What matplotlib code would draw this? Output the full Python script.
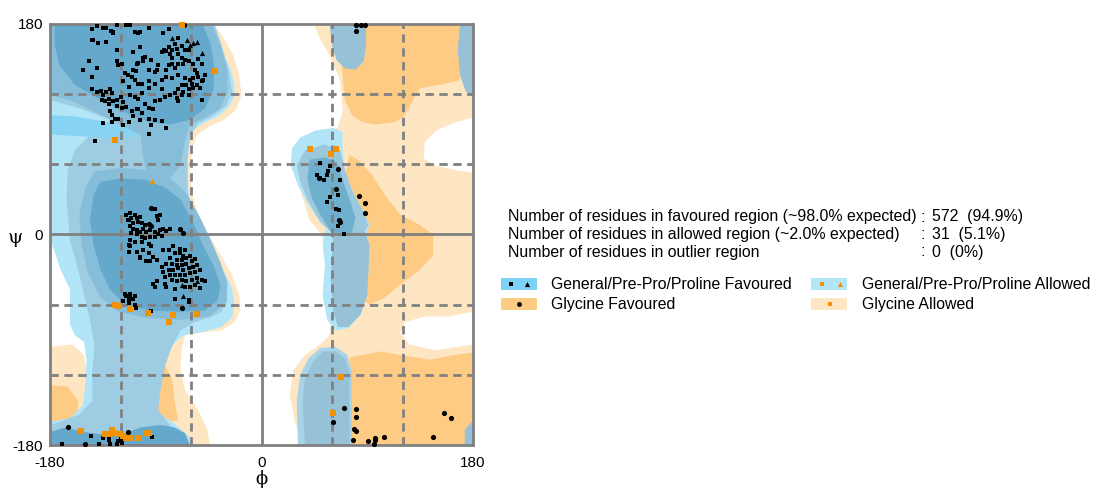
import matplotlib
matplotlib.use("Agg")
import matplotlib.pyplot as plt
from matplotlib.patches import Polygon, Rectangle
import numpy as np

# ---------------- region outlines (phi, psi in degrees) ----------------
gly_allowed_right = [(45,180),(180,180),(180,100),(165,96),(149,89),(139,79),(138,65),(148,59),(165,55),(180,53),
                     (180,-66),(160,-70),(139,-70),(122,-75),(118,-84),(126,-94),(148,-99),(180,-94),(180,-180),
                     (43,-180),(29,-163),(24,-137),(27,-116),(37,-103),(50,-94),(58,-86),(61,-56),(58,-22),(51,0),
                     (41,12),(33,38),(28,64),(33,81),(48,89),(65,91),(69,106),(67,132),(58,153),(48,171)]
gly_allowed_left = [(-57,180),(-41,180),(-32,168),(-24,153),(-19,136),(-17,119),(-22,106),(-32,98),(-45,92),(-55,85),
                    (-59,72),(-61,55),(-59,34),(-54,18),(-45,0),(-35,-17),(-25,-35),(-19,-52),(-18,-64),(-23,-75),
                    (-34,-82),(-52,-84),(-65,-86),(-68,-99),(-69,-116),(-65,-133),(-54,-150),(-46,-167),(-44,-180),
                    (-120,-180),(-120,30),(-95,115),(-95,180)]
gly_allowed_corner = [(-180,-96),(-161,-94),(-151,-103),(-148,-124),(-148,-180),(-180,-180)]
gly_fav_top = [(64,180),(169,180),(169,132),(152,128),(135,125),(129,115),(122,102),(114,96),(97,94),(86,96),
               (77,102),(71,115),(69,136),(67,158)]
gly_fav_mid = [(75,68),(82,64),(94,51),(105,34),(118,17),(135,8),(146,0),(146,-18),(135,-30),(118,-43),(105,-54),
               (92,-60),(86,-56),(84,-39),(80,-13),(71,8),(67,30),(71,51)]
gly_fav_bottom = [(75,-105),(101,-100),(118,-103),(143,-107),(165,-103),(180,-101),(180,-180),(75,-180)]
gly_fav_left = [(-180,-129),(-165,-130),(-156,-142),(-156,-159),(-172,-163),(-180,-162)]
gly_fav_left2 = [(-92,-107),(-82,-112),(-76,-124),(-74,-142),(-71,-159),(-86,-161),(-92,-150)]

gen_allowed = [(-180,180),(-45,180),(-39,166),(-32,153),(-26,141),(-23,128),(-23,118),(-28,109),(-37,101),(-50,95),
               (-58,89),(-62,76),(-63,55),(-62,34),(-58,17),(-51,0),(-42,-17),(-32,-32),(-25,-46),(-23,-60),
               (-25,-71),(-34,-79),(-48,-83),(-65,-86),(-71,-90),(-86,-105),(-91,-118),(-92,-150),(-75,-161),
               (-61,-173),(-58,-180),(-180,-180),(-180,-160),(-163,-157),(-152,-146),(-150,-129),(-149,-107),
               (-151,-92),(-159,-86),(-163,-77),(-163,-47),(-171,-30),(-178,-9),(-180,-5)]
pre_allowed = [(-180,180),(-40,180),(-34,162),(-28,141),(-25,122),(-30,110),(-42,101),(-54,95),(-61,85),(-63,64),
               (-63,38),(-59,18),(-52,0),(-44,-16),(-35,-29),(-30,-43),(-29,-56),(-34,-66),(-44,-71),(-57,-75),
               (-69,-82),(-76,-95),(-82,-112),(-86,-133),(-88,-150),(-78,-163),(-65,-176),(-63,-180),(-180,-180),
               (-180,-163),(-155,-154),(-144,-142),(-144,-116),(-142,-95),(-146,-73),(-150,-56),(-156,-30),
               (-163,-5),(-166,30),(-165,55),(-159,72),(-146,85),(-129,98),(-155,108),(-180,115)]
fav_band = [(-180,102),(-159,101),(-137,97),(-116,93),(-99,87),(-112,83),(-133,83),(-155,84),(-172,85),(-180,86)]
beta_outer = [(-180,180),(-42,180),(-35,162),(-29,141),(-29,122),(-35,108),(-48,100),(-61,94),(-65,81),(-69,59),
              (-78,48),(-88,47),(-98,54),(-101,68),(-103,85),(-120,94),(-142,105),(-163,115),(-180,119)]
beta_core = [(-176,180),(-50,180),(-43,162),(-40,141),(-41,124),(-48,108),(-61,98),(-78,94),(-95,96),(-118,105),
             (-142,118),(-159,128),(-172,145),(-176,162)]
alpha_outer = [(-142,54),(-120,57),(-95,55),(-76,47),(-63,34),(-52,14),(-43,-5),(-35,-24),(-29,-41),(-30,-58),
               (-44,-70),(-69,-73),(-99,-71),(-122,-66),(-137,-54),(-148,-32),(-153,-9),(-155,17),(-150,40)]
alpha_core = [(-137,45),(-120,48),(-99,47),(-82,40),(-69,30),(-59,12),(-50,-9),(-41,-26),(-35,-43),(-37,-56),
              (-48,-65),(-69,-66),(-95,-65),(-116,-60),(-129,-47),(-137,-30),(-143,-9),(-146,12),(-143,34)]
bottom_band = [(-180,-180),(-180,-169),(-167,-165),(-150,-169),(-129,-172),(-116,-170),(-103,-165),(-86,-163),
               (-74,-165),(-65,-170),(-61,-180)]
lobe_L_outer = [(46,89),(61,91),(69,88),(69,72),(71,55),(77,38),(86,21),(92,8),(88,-2),(75,-5),(63,-1),(52,8),
                (40,25),(31,42),(25,59),(26,74),(33,83)]
lobe_L_mid = [(37,72),(54,77),(67,72),(71,55),(77,38),(86,21),(91,8),(86,-1),(74,-4),(61,0),(50,11),(40,28),
              (33,45),(30,59)]
lobe_L_core = [(41,64),(54,66),(64,62),(69,47),(75,30),(80,14),(77,2),(67,-2),(58,4),(50,17),(43,31),(39,47)]
lobe_ext_outer = [(54,4),(88,4),(92,-9),(91,-30),(90,-52),(84,-69),(74,-80),(63,-82),(56,-73),(52,-52),(54,-26),(52,-9)]
lobe_ext_inner = [(61,2),(88,2),(92,-9),(91,-30),(90,-52),(84,-69),(74,-79),(65,-79),(61,-65),(59,-39),(60,-18)]
lobe_bottom_outer = [(31,-180),(30,-142),(33,-120),(40,-106),(50,-97),(63,-96),(73,-103),(77,-118),(77,-142),(77,-180)]
lobe_bottom_inner = [(37,-180),(35,-142),(37,-123),(44,-109),(52,-100),(63,-100),(71,-106),(75,-118),(75,-180)]
lobe_top = [(58,180),(89,180),(89,162),(87,148),(80,141),(71,142),(64,149),(60,162)]
wrap_top = [(169,180),(180,180),(180,117),(174,122),(169,136),(167,158)]
wrap_bottom = [(173,-180),(173,-167),(180,-159),(180,-180)]

# ---------------- residues (phi, psi) ----------------
general_fav = [
 (-144,176),(-140,178),(-135,177),(-132,177),(-128,174),(-126,173),(-123,179),(-115,179),(-112,179),(-108,173),
 (-105,172),(-144,166),(-143,166),(-139,164),(-132,165),(-126,172),(-123,158),(-147,148),(-152,141),(-140,142),
 (-144,135),(-123,148),(-119,146),(-122,145),(-116,138),(-114,136),(-109,141),(-107,140),(-110,135),(-106,146),
 (-118,131),(-113,126),(-108,132),(-105,129),(-144,124),(-140,122),(-137,123),(-135,119),(-132,122),(-129,124),
 (-127,121),(-130,116),(-136,115),(-133,114),(-130,112),(-126,114),(-123,115),(-120,118),(-118,113),(-112,119),
 (-108,118),(-105,116),(-123,110),(-119,108),(-115,109),(-110,106),(-106,107),(-129,106),(-127,102),(-125,99),
 (-122,99),(-118,94),(-113,96),(-135,95),(-127,96),(-109,101),(-103,173),(-96,177),(-103,160),(-109,156),
 (-101,151),(-89,141),(-96,86),(-142,80),
 (-96,177),(-84,172),(-79,176),(-71,168),(-74,163),(-79,160),(-83,158),(-85,156),(-81,157),(-76,158),
 (-72,159),(-68,161),(-65,158),(-62,158),(-71,154),(-78,154),(-76,151),(-68,151),(-65,149),(-62,148),
 (-58,146),(-51,146),(-54,150),(-67,146),(-71,146),(-76,146),(-79,145),(-88,145),(-94,149),(-99,152),
 (-101,148),(-105,147),(-96,141),(-91,139),(-81,141),(-74,142),(-57,141),(-55,138),(-54,135),(-50,132),
 (-48,136),(-51,131),(-58,134),(-61,132),(-65,134),(-71,136),(-76,134),(-81,135),(-85,132),(-91,129),
 (-96,131),(-102,129),(-68,128),(-64,128),(-59,129),(-55,128),(-52,125),(-58,125),(-62,124),(-67,122),
 (-71,124),(-74,121),(-78,119),(-82,118),(-86,115),(-91,114),(-72,117),(-68,119),(-62,119),(-51,115),
 (-85,124),(-96,125),(-102,121),(-99,112),(-96,108),(-92,107),(-102,104),(-105,107),(-96,99),(-91,98),
 (-85,97),(-81,91),(-94,94),(-103,98),(-71,114),
 (-91,22),(-112,18),(-108,17),(-111,14),(-106,14),(-103,15),(-113,12),(-109,10),(-105,11),(-102,10),
 (-99,8),(-89,16),(-86,17),(-88,12),(-112,7),(-109,5),(-106,4),(-103,2),(-101,5),(-98,2),
 (-95,4),(-91,2),(-86,4),(-84,5),(-81,3),(-78,5),(-111,1),(-106,0),(-102,-2),(-99,-3),
 (-95,-2),(-91,-2),(-88,0),(-85,-1),(-112,-5),(-108,-6),(-102,-6),(-96,-8),(-94,-10),(-112,-10),
 (-113,-15),(-106,-15),(-101,-13),(-96,-16),(-103,-20),(-98,-23),(-92,-19),(-89,-22),(-84,-13),(-79,-13),
 (-75,-10),(-69,-12),(-65,-13),(-74,-16),(-69,-16),(-67,-18),(-78,-20),(-72,-22),(-68,-22),(-64,-20),
 (-61,-18),(-81,-25),(-76,-25),(-72,-26),(-68,-26),(-64,-25),(-59,-23),(-57,-21),(-85,-28),(-84,-32),
 (-79,-30),(-75,-30),(-71,-29),(-67,-30),(-62,-29),(-58,-28),(-55,-26),(-82,-36),(-78,-35),(-74,-35),
 (-69,-35),(-65,-35),(-61,-33),(-57,-32),(-52,-30),(-76,-39),(-72,-40),(-68,-39),(-64,-40),(-59,-39),
 (-55,-37),(-51,-39),(-48,-40),(-61,-45),(-57,-43),(-52,-46),(-65,-45),(-74,-55),(-92,-42),(-91,-45),
 (-82,-42),(-81,-45),(-116,-51),(-112,-53),(-113,-56),(-109,-55),(-62,-56),(-115,17),(-114,12),(-113,-9),
 (-103,-19),(-95,-23),(-89,-40),(-74,-47),(-115,-53),(-112,-51),(-108,-53),(-118,-57),(-113,-59),(-108,-60),
 (-107,-63),(-94,-65),(-62,-58),
 (-170,-179),(-145,-172),(-135,-174),(-130,-176),(-130,-174),(-138,-179),(-129,-179),(-123,-179),(-120,-175),
 (-119,-178),(-93,-173),(-122,-177),
]
proline_fav = [(-76,168),(-63,166),(-58,164),(-61,162),(-55,165),(-51,155),(-68,-43),(-55,-40),(-67,-53)]
glycine = [(-66,179),(-94,23),(-96,9),(-94,7),(-69,5),(-67,1),(-68,-63),(-165,-165),(-150,-179),(-114,-169),
           (80,179),(80,174),(85,179),(88,179),
           (65,56),(49,48),(63,39),(66,12),(67,11),(83,33),(88,27),(88,18),
           (70,-148),(80,-149),(80,-156),(61,-160),(79,-166),(80,-168),(78,-176),(91,-177),(97,-174),(97,-176),
           (104,-173),(96,-179),(146,-173),(155,-153),(161,-157)]
general_fav_right = [(50,61),(58,59),(47,51),(50,48),(53,47),(56,51),(57,54),(67,47),(58,32),(65,34),
                     (56,28),(63,22),(66,21),(65,7),(70,0)]
general_allowed = [(-40,140),(-68,179),(-125,81),(-125,-60),(-121,-61),(-112,-64),(-97,-67),(-75,-69),(-55,-68),
                   (-79,-75),(-154,-168),(-133,-171),(-129,-171),(-127,-167),(-125,-170),(-118,-172),(-115,-174),
                   (-112,-174),(-105,-174),(-98,-170),(-96,-170),(-120,-171),
                   (41,73),(63,73),(59,69),(68,-122),(61,-153)]
proline_allowed = [(-93,46)]

grid_lines = [-120, -60, 60, 120]
tick_values = [-180, 0, 180]
tick_labels = ["-180", "0", "180"]

stats_labels = ["Number of residues in favoured region (~98.0% expected)",
                "Number of residues in allowed region (~2.0% expected)",
                "Number of residues in outlier region"]
stats_values = ["572  (94.9%)", "31  (5.1%)", "0  (0%)"]
legend_labels = ["General/Pre-Pro/Proline Favoured", "Glycine Favoured",
                 "General/Pre-Pro/Proline Allowed", "Glycine Allowed"]

# ---------------- colours ----------------
PEACH = "#FEE6C3"
ORANGE = "#FECB84"
CYAN = "#B3E5F9"
BRIGHT = "#86D3F3"
MID = "#9ECCE3"
DARK1 = "#86BEDA"
DARK2 = "#64A9CB"
LOBE_MID = "#9CC8DE"
LOBE_CORE = "#6FAFCE"
GREYBLUE = "#96C1D6"
GRID = "#808080"
PT_ORANGE = "#F39200"

plt.rcParams["font.family"] = ["Liberation Sans", "DejaVu Sans"]
fig = plt.figure(figsize=(10.95, 4.9), dpi=100)
ax = fig.add_axes([50/1095, 1-445/490, 423/1095, 421/490])
ax.set_xlim(-180, 180)
ax.set_ylim(-180, 180)


def poly(verts, color, z):
    ax.add_patch(Polygon(np.array(verts, dtype=float), closed=True, facecolor=color,
                         edgecolor="none", zorder=z))

# glycine regions
for v in (gly_allowed_right, gly_allowed_left, gly_allowed_corner):
    poly(v, PEACH, 1)
for v in (gly_fav_top, gly_fav_mid, gly_fav_bottom, gly_fav_left, gly_fav_left2):
    poly(v, ORANGE, 2)
# general / pre-pro / proline regions
poly(gen_allowed, CYAN, 3)
poly(pre_allowed, MID, 4)
poly(fav_band, BRIGHT, 4.5)
poly(beta_outer, DARK1, 5)
poly(alpha_outer, DARK1, 5)
poly(beta_core, DARK2, 6)
poly(alpha_core, DARK2, 6)
poly(bottom_band, DARK2, 6)
poly(lobe_L_outer, CYAN, 3)
poly(lobe_L_mid, LOBE_MID, 4)
poly(lobe_L_core, LOBE_CORE, 5)
poly(lobe_ext_outer, CYAN, 3)
poly(lobe_ext_inner, GREYBLUE, 4)
poly(lobe_bottom_outer, "#A9D3E6", 3)
poly(lobe_bottom_inner, GREYBLUE, 4)
poly(lobe_top, GREYBLUE, 4)
poly(wrap_top, GREYBLUE, 4)
poly(wrap_bottom, GREYBLUE, 4)

# grid lines
for g in grid_lines:
    ax.axvline(g, color=GRID, lw=2, ls=(0, (3, 2)), zorder=7)
    ax.axhline(g, color=GRID, lw=2, ls=(0, (3, 2)), zorder=7)
ax.axvline(0, color=GRID, lw=2, zorder=7)
ax.axhline(0, color=GRID, lw=2, zorder=7)


def scatter(pts, **kw):
    a = np.array(pts, dtype=float)
    ax.scatter(a[:, 0], a[:, 1], linewidths=0, clip_on=False, zorder=9, **kw)

scatter(general_fav, marker="s", s=6, color="black")
scatter(general_fav_right, marker="s", s=6, color="black")
scatter(proline_fav, marker="^", s=14, color="black")
scatter(glycine, marker="o", s=14, color="black")
scatter(general_allowed, marker="s", s=14, color=PT_ORANGE)
scatter(proline_allowed, marker="^", s=16, color=PT_ORANGE)

for s in ax.spines.values():
    s.set_color(GRID)
    s.set_linewidth(2)
    s.set_zorder(8)
ax.set_xticks(tick_values)
ax.set_xticklabels(tick_labels)
ax.set_yticks(tick_values)
ax.set_yticklabels(tick_labels)
ax.tick_params(length=0, labelsize=11, pad=5)
ax.tick_params(axis="x", pad=8)

fig.text(15/1095, 1-238/490, "ψ", fontsize=14, family=["DejaVu Serif"],
         ha="center", va="center")
fig.text(262/1095, 1-479/490, "ϕ", fontsize=13, family=["DejaVu Serif"],
         ha="center", va="center")

# statistics text
FS = 11.4
for i, (lab, val) in enumerate(zip(stats_labels, stats_values)):
    y = 1 - (217 + 17.5 * i) / 490
    fig.text(508/1095, y, lab, fontsize=FS, va="center", ha="left")
    fig.text(921/1095, y, ":", fontsize=FS, va="center", ha="left")
    fig.text(932/1095, y, val, fontsize=FS, va="center", ha="left")

# legend
ov = fig.add_axes([0, 0, 1, 1], facecolor="none")
ov.set_xlim(0, 1095)
ov.set_ylim(490, 0)
ov.axis("off")
leg_rows = [(501, 284, "#7CD1F4", legend_labels[0], 551),
            (501, 304, ORANGE, legend_labels[1], 551),
            (811, 284, CYAN, legend_labels[2], 862),
            (811, 304, PEACH, legend_labels[3], 862)]
for x0, yc, col, lab, tx in leg_rows:
    ov.add_patch(Rectangle((x0, yc - 6), 36, 12, facecolor=col, edgecolor="none"))
    ov.text(tx, yc, lab, fontsize=FS, va="center", ha="left")
ov.scatter([511], [284], marker="s", s=6, color="black", linewidths=0)
ov.scatter([527], [283.5], marker="^", s=14, color="black", linewidths=0)
ov.scatter([519], [304], marker="o", s=12, color="black", linewidths=0)
ov.scatter([822], [284], marker="s", s=12, color=PT_ORANGE, linewidths=0)
ov.scatter([840], [283.5], marker="^", s=14, color=PT_ORANGE, linewidths=0)
ov.scatter([830], [304], marker="s", s=12, color=PT_ORANGE, linewidths=0)

fig.savefig("out.png", dpi=100)
